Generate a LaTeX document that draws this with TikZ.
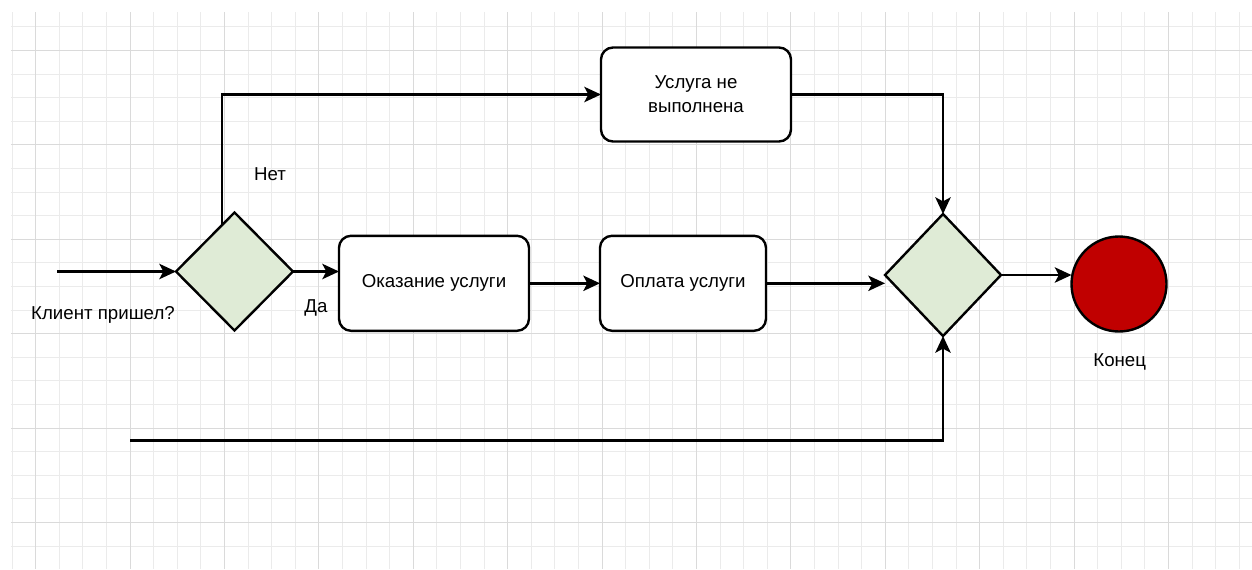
\documentclass[tikz,border=0pt]{standalone}
\usepackage{fontspec}
\setmainfont{Liberation Sans}
\usetikzlibrary{shapes.geometric,arrows.meta,calc}

\definecolor{gridminor}{HTML}{EBEBEB}
\definecolor{gridmajor}{HTML}{DADADA}
\definecolor{choicefill}{HTML}{DFEBD6}
\definecolor{endred}{HTML}{C00000}

\tikzset{
  stepbox/.style={draw, line width=1.8pt, rounded corners=9pt, fill=white,
    align=center, inner sep=0pt, outer sep=0pt, font=\fontsize{14}{18}\selectfont},
  choice/.style={diamond, draw, line width=1.8pt, fill=choicefill,
    inner sep=0pt, outer sep=0pt},
  finish/.style={circle, draw, line width=1.8pt, fill=endred,
    minimum size=71.25pt, inner sep=0pt, outer sep=0pt},
  lbl/.style={inner sep=0pt, font=\fontsize{14}{17}\selectfont},
  arr/.style={line width=1.8pt, -{Stealth[length=12.5pt,width=11.5pt,inset=3pt]}}
}

\begin{document}
\begin{tikzpicture}[
  x=0.75pt,
  y=-0.75pt,
  line cap=butt,
  line join=miter
]
  \useasboundingbox (0,0) rectangle (1252,569);

  % Сетка
  \foreach \i in {0,...,52}
    \draw[gridminor, line width=0.8pt] ({12.1+23.6*\i},12) -- ({12.1+23.6*\i},569);
  \foreach \j in {0,...,22}
    \draw[gridminor, line width=0.8pt] (11,{26.9+23.6*\j}) -- (1252,{26.9+23.6*\j});
  \foreach \i in {0,...,12}
    \draw[gridmajor, line width=0.8pt] ({35.7+94.4*\i},12) -- ({35.7+94.4*\i},569);
  \foreach \j in {0,...,5}
    \draw[gridmajor, line width=0.8pt] (11,{50.5+94.4*\j}) -- (1252,{50.5+94.4*\j});

  % Развилки
  \node[choice, minimum width=87.75pt, minimum height=88.5pt] (d1) at (234.5,271.5) {};
  \node[choice, minimum width=87pt, minimum height=91.5pt] (d2) at (943,275) {};

  % Действия
  \node[stepbox, minimum width=142.5pt, minimum height=70.5pt] (up) at (696,94.5)
    {Услуга не\\выполнена};
  \node[stepbox, minimum width=142.5pt, minimum height=71.25pt] (serv) at (434,283.3)
    {Оказание услуги};
  \node[stepbox, minimum width=124.5pt, minimum height=71.25pt] (pay) at (683,283.3)
    {Оплата услуги};

  % Конец
  \node[finish] (end) at (1119,284) {};

  % Подписи
  \node[lbl] (client) at (103,315) {Клиент пришел?};
  \node[lbl] (no) at (270,174) {Нет};
  \node[lbl] (yes) at (316,308) {Да};
  \node[lbl] (endtxt) at (1119.7,362) {Конец};

  % Стрелки
  \coordinate (start) at (57,271.5);
  \coordinate (back) at (130,440.5);
  \draw[arr] (start) -- (d1.west);
  \draw[arr] ($(d1.north)!0.21!(d1.west)$) |- (up.west);
  \draw[arr] (d1.east) -- (d1.east -| serv.west);
  \draw[arr] (serv.east) -- (pay.west);
  \draw[arr] (pay.east) -- (pay.east -| d2.west);
  \draw[arr] (up.east) -| (d2.north);
  \draw[arr] (back) -| (d2.south);
  \draw[arr] (d2.east) -- (d2.east -| end.west);
\end{tikzpicture}
\end{document}
